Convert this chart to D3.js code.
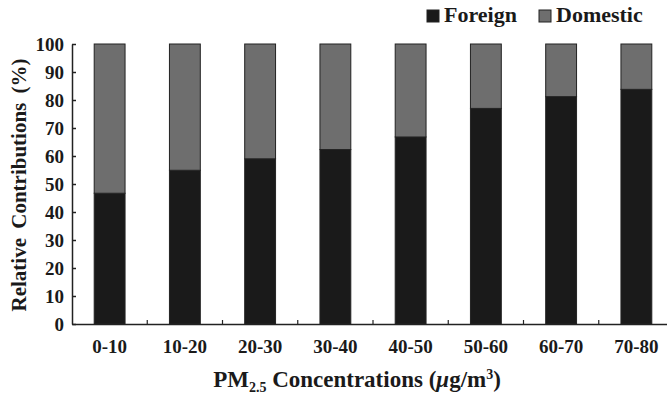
<!DOCTYPE html>
<html>
<head>
<meta charset="utf-8">
<script src="https://cdn.jsdelivr.net/npm/d3@7"></script>
<style>
  html, body { margin: 0; padding: 0; background: #fff; }
  svg { display: block; }
  text { font-family: "Liberation Serif", "Times New Roman", serif; font-weight: bold; fill: #1a1a1a; }
</style>
</head>
<body>
<div id="chart"></div>
<script>
// Data
let categories = ["0-10", "10-20", "20-30", "30-40", "40-50", "50-60", "60-70", "70-80"];
let foreign = [46.7, 54.9, 59.0, 62.3, 66.8, 77.0, 81.2, 83.8];
let domestic = [53.3, 45.1, 41.0, 37.7, 33.2, 23.0, 18.8, 16.2];
let yTicks = [0, 10, 20, 30, 40, 50, 60, 70, 80, 90, 100];
let seriesNames = ["Foreign", "Domestic"];
let seriesColors = ["#1a1a1a", "#6e6e6e"];

let width = 667;
let height = 398;
// plot area edges
let plotLeft = 72, plotRight = 674, plotTop = 44, plotBottom = 324;

let svg = d3.select("#chart").append("svg")
  .attr("width", width)
  .attr("height", height);

// Scales
let x = d3.scaleBand()
  .domain(categories)
  .range([plotLeft, plotRight])
  .paddingInner(0.59)
  .paddingOuter(0.295);

let y = d3.scaleLinear().domain([0, 100]).range([plotBottom, plotTop]);

// Stack data
let rows = categories.map((c, i) => ({ cat: c, Foreign: foreign[i], Domestic: domestic[i] }));
let stacked = d3.stack().keys(seriesNames)(rows);

// Bars
svg.append("g")
  .selectAll("g")
  .data(stacked)
  .join("g")
  .attr("fill", (d, i) => seriesColors[i])
  .selectAll("rect")
  .data(d => d)
  .join("rect")
  .attr("x", d => x(d.data.cat))
  .attr("y", d => y(d[1]))
  .attr("width", x.bandwidth())
  .attr("height", d => y(d[0]) - y(d[1]))
  .attr("stroke", "#222")
  .attr("stroke-width", 1);

// Y axis (ticks pointing inward)
let yAxis = svg.append("g")
  .attr("transform", `translate(${plotLeft},0)`)
  .call(d3.axisLeft(y).tickValues(yTicks).tickSize(-4).tickSizeOuter(0).tickPadding(8));
yAxis.selectAll("text").style("font-size", "19px");
yAxis.selectAll("line, path").attr("stroke", "#222").attr("stroke-width", 1.5);

// X axis line with labels
let xAxis = svg.append("g")
  .attr("transform", `translate(0,${plotBottom})`)
  .call(d3.axisBottom(x).tickSize(0).tickSizeOuter(0).tickPadding(16));
xAxis.selectAll("text").style("font-size", "19px");
xAxis.select(".domain").attr("stroke", "#222").attr("stroke-width", 1.5);

// X ticks between bars
let gap = x.step() - x.bandwidth();
svg.append("g")
  .selectAll("line")
  .data(categories.slice(1))
  .join("line")
  .attr("x1", d => x(d) - gap / 2)
  .attr("x2", d => x(d) - gap / 2)
  .attr("y1", plotBottom)
  .attr("y2", plotBottom - 4)
  .attr("stroke", "#222")
  .attr("stroke-width", 1.2);

// Y axis title
svg.append("text")
  .attr("transform", `translate(26,${(plotTop + plotBottom) / 2 + 1}) rotate(-90)`)
  .attr("text-anchor", "middle")
  .style("font-size", "21px")
  .style("word-spacing", "4px")
  .text("Relative Contributions (%)");

// X axis title
let xt = svg.append("text")
  .attr("x", 357)
  .attr("y", 387)
  .attr("text-anchor", "middle")
  .style("font-size", "23px");
xt.append("tspan").text("PM");
xt.append("tspan").attr("dy", 5).style("font-size", "14px").text("2.5");
xt.append("tspan").attr("dy", -5).text(" Concentrations (");
xt.append("tspan").style("font-style", "italic").text("μ");
xt.append("tspan").text("g/m");
xt.append("tspan").attr("dy", -8).style("font-size", "14px").text("3");
xt.append("tspan").attr("dy", 8).text(")");

// Legend
let legendX = [427, 539];
let legend = svg.append("g")
  .selectAll("g")
  .data(seriesNames)
  .join("g")
  .attr("transform", (d, i) => `translate(${legendX[i]},10)`);
legend.append("rect")
  .attr("width", 12)
  .attr("height", 12)
  .attr("fill", (d, i) => seriesColors[i])
  .attr("stroke", "#222");
legend.append("text")
  .attr("x", 17)
  .attr("y", 12)
  .style("font-size", "22px")
  .text(d => d);
</script>
</body>
</html>
